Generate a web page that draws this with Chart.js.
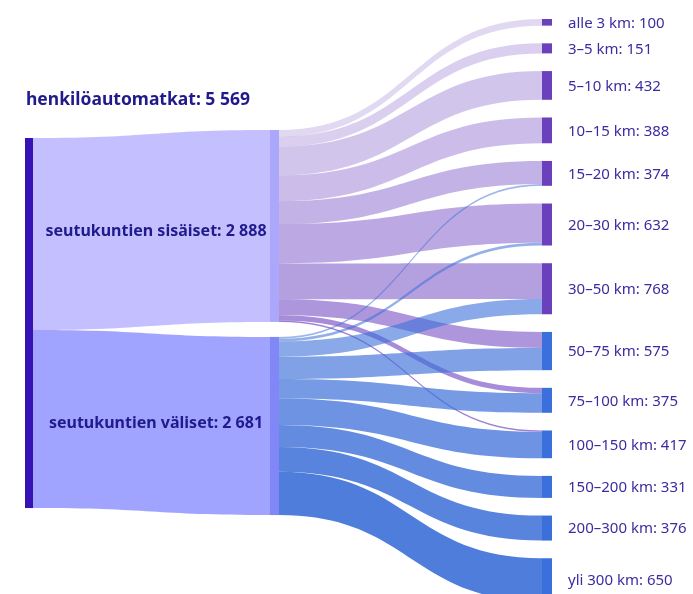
<!DOCTYPE html>
<html>
<head>
<meta charset="utf-8">
<script src="https://cdn.jsdelivr.net/npm/chart.js@4.4.1/dist/chart.umd.min.js"></script>
<style>
    html, body { margin: 0; padding: 0; background: #fff; }
    #wrap { width: 693px; height: 594px; }
</style>
</head>
<body>
<div id="wrap"><canvas id="myChart" width="693" height="594"></canvas></div>
<script>
const totalLabel = 'henkilöautomatkat'
const groupLabels = ['seutukuntien sisäiset', 'seutukuntien väliset']
const distanceLabels = ['alle 3 km', '3–5 km', '5–10 km', '10–15 km', '15–20 km', '20–30 km', '30–50 km',
    '50–75 km', '75–100 km', '100–150 km', '150–200 km', '200–300 km', 'yli 300 km']
// trips inside a region / between regions, per distance class
const withinTrips = [100, 151, 432, 388, 345, 592, 540, 240, 80, 20, 0, 0, 0]
const betweenTrips = [0, 0, 0, 0, 29, 40, 228, 335, 295, 397, 331, 376, 650]

const sum = arr => arr.reduce((a, b) => a + b, 0)
const fmt = n => String(n).replace(/\B(?=(\d{3})+(?!\d))/g, ' ')

const groupTotals = [sum(withinTrips), sum(betweenTrips)]
const distanceTotals = distanceLabels.map((_, i) => withinTrips[i] + betweenTrips[i])
const grandTotal = sum(groupTotals)

// y axis runs in trips, x axis in pixels
const pxPerTrip = 0.06645
const toTrips = px => px / pxPerTrip
const columns = [
    { x0: 25, x1: 33, top: 138, gap: 0 },
    { x0: 270, x1: 279, top: 130, gap: 15 },
    { x0: 542, x1: 552, top: 19, gap: 17.7 }
]

const stack = (values, col) => {
    let y = toTrips(col.top)
    return values.map(v => {
        const n = { y0: y, y1: y + v }
        y += v + toTrips(col.gap)
        return n
    })
}

const leftNodes = stack([grandTotal], columns[0])
const midNodes = stack(groupTotals, columns[1])
const rightNodes = stack(distanceTotals, columns[2])

const groupFlowColors = ['#c4c0ff', '#a0a4ff']
const groupBarColors = ['#aba7fb', '#8287f7']
const rightBarColors = distanceLabels.map((_, i) => i < 7 ? '#6b40bd' : '#3a6fdc')
const flowColor = (g, i) => g === 0
    ? `rgba(106, 63, 191, ${0.2 + 0.05 * i})`
    : `rgba(60, 111, 216, ${Math.min(0.9, 0.3 + 0.05 * i)})`

const ribbon = (ctx, x0, a0, a1, x1, b0, b1, color) => {
    const xm = (x0 + x1) / 2
    ctx.beginPath()
    ctx.moveTo(x0, a0)
    ctx.bezierCurveTo(xm, a0, xm, b0, x1, b0)
    ctx.lineTo(x1, b1)
    ctx.bezierCurveTo(xm, b1, xm, a1, x0, a1)
    ctx.closePath()
    ctx.fillStyle = color
    ctx.fill()
}

const sankeyPlugin = {
    id: 'sankey',
    afterDatasetsDraw(chart) {
        const { ctx } = chart
        const xs = chart.scales.x
        const ys = chart.scales.y
        const px = v => xs.getPixelForValue(v)
        const py = v => ys.getPixelForValue(v)
        ctx.save()

        // total -> groups
        let offset = leftNodes[0].y0
        groupTotals.forEach((v, g) => {
            ribbon(ctx, px(columns[0].x1), py(offset), py(offset + v),
                px(columns[1].x0), py(midNodes[g].y0), py(midNodes[g].y1), groupFlowColors[g])
            offset += v
        })

        // groups -> distance classes
        const inOffset = rightNodes.map(n => n.y0)
        ;[withinTrips, betweenTrips].forEach((series, g) => {
            let out = midNodes[g].y0
            series.forEach((v, i) => {
                if (!v) return
                ribbon(ctx, px(columns[1].x1), py(out), py(out + v),
                    px(columns[2].x0), py(inOffset[i]), py(inOffset[i] + v), flowColor(g, i))
                out += v
                inOffset[i] += v
            })
        })

        // node bars
        const bar = (col, n, color) => {
            ctx.fillStyle = color
            ctx.fillRect(px(col.x0), py(n.y0), px(col.x1) - px(col.x0), py(n.y1) - py(n.y0))
        }
        bar(columns[0], leftNodes[0], '#3713b5')
        midNodes.forEach((n, g) => bar(columns[1], n, groupBarColors[g]))
        rightNodes.forEach((n, i) => bar(columns[2], n, rightBarColors[i]))

        // labels
        ctx.textBaseline = 'middle'
        ctx.fillStyle = '#201a8c'
        ctx.font = 'bold 17.5px "Noto Sans"'
        ctx.textAlign = 'left'
        ctx.fillText(`${totalLabel}: ${fmt(grandTotal)}`, 26, 100)

        ctx.font = 'bold 16px "Noto Sans"'
        ctx.textAlign = 'center'
        let lo = leftNodes[0].y0
        groupTotals.forEach((v, g) => {
            const yc = (py(lo) + py(lo + v) + py(midNodes[g].y0) + py(midNodes[g].y1)) / 4
            ctx.fillText(`${groupLabels[g]}: ${fmt(v)}`, (px(columns[0].x1) + px(columns[1].x1)) / 2, yc + 1)
            lo += v
        })

        ctx.font = '15px "Noto Sans"'
        ctx.textAlign = 'left'
        ctx.fillStyle = '#3b2d9f'
        rightNodes.forEach((n, i) => {
            ctx.fillText(`${distanceLabels[i]}: ${fmt(distanceTotals[i])}`, 568, (py(n.y0) + py(n.y1)) / 2 + 1)
        })
        ctx.restore()
    }
}

new Chart(document.getElementById('myChart'), {
    type: 'scatter',
    data: { datasets: [{ data: [] }] },
    options: {
        responsive: false,
        animation: false,
        layout: { padding: 0 },
        scales: {
            x: { type: 'linear', min: 0, max: 693, display: false },
            y: { type: 'linear', min: 0, max: toTrips(594), reverse: true, display: false }
        },
        plugins: { legend: { display: false }, tooltip: { enabled: false } }
    },
    plugins: [sankeyPlugin]
})
</script>
</body>
</html>
